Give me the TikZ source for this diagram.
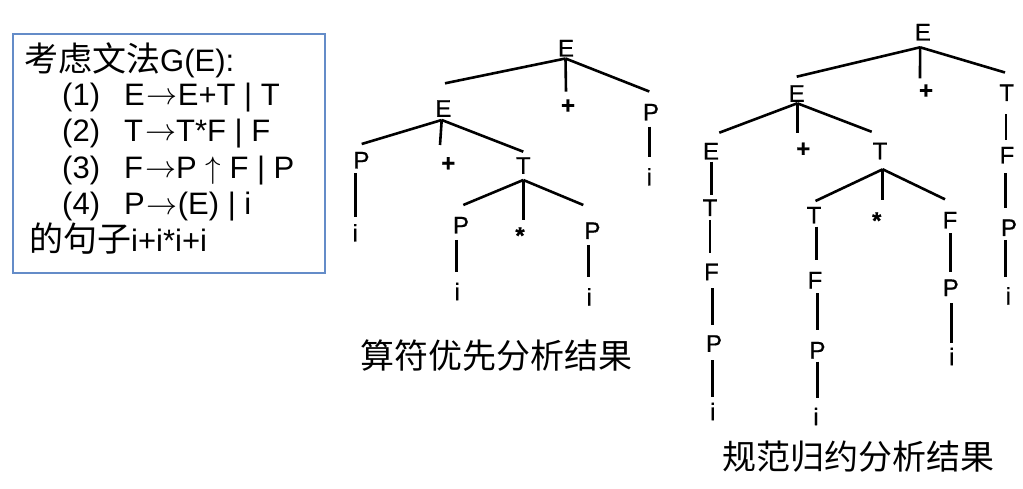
\RequirePackage{fix-cm}
\documentclass[tikz,border=0pt]{standalone}
\usepackage{fontspec}
\setmainfont{Liberation Sans}
\newfontfamily\boxf{Liberation Sans}
\newfontfamily\treef[FakeBold=0.6]{Liberation Sans}
\newfontfamily\cjkf{Noto Sans CJK SC}
\newcommand\cjkt[1]{{\cjkf\fontsize{34}{34}\selectfont #1}}
\newcommand\ra{\hspace{2pt}\raisebox{1pt}{$\rightarrow$}}
\newcommand\tedge[4]{\draw[tline] ([shift={(#2)}]#1.center) -- ([shift={(#4)}]#3.center);}
\definecolor{boxblue}{RGB}{100,140,200}
\tikzset{
  tn/.style={font=\treef\fontsize{24}{24}\selectfont, inner sep=0pt, text height=17pt, text depth=0pt, anchor=center},
  tb/.style={tn, font=\treef\fontsize{24}{24}\selectfont\bfseries},
  tline/.style={line width=2.6pt},
  gram/.style={anchor=base west, inner sep=0pt, font=\boxf\fontsize{31}{31}\selectfont},
  captxt/.style={anchor=west, inner sep=0pt, font=\cjkf\fontsize{34}{34}\selectfont},
}
\begin{document}
\begin{tikzpicture}[x=1pt,y=-1pt]
\useasboundingbox (0,0) rectangle (1023,489);
% grammar box
\draw[boxblue, line width=2pt] (12.7,34) rectangle (325,273);
\node[gram] (g0) at (24,71.5) {\cjkt{考虑文法}G(E):};
\node[gram] (n1) at (62,105.5) {(1)};
\node[gram] (r1) at (124,105.5) {E\ra E+T | T};
\node[gram] (n2) at (62,142) {(2)};
\node[gram] (r2) at (124,142) {T\ra T*F | F};
\node[gram] (n3) at (62,178.5) {(3)};
\node[gram] (r3) at (124,178.5) {F\ra P $\uparrow$ F | P};
\node[gram] (n4) at (62,215) {(4)};
\node[gram] (r4) at (124,215) {P\ra (E) | i};
\node[gram] (g5) at (29,251.5) {\cjkt{的句子}i+i*i+i};
% left tree
\node[tn] (LE0) at (566,48) {E};
\node[tn] (LE1) at (443.3,108.3) {E};
\node[tb] (Lp1) at (568,105) {+};
\node[tn] (LP1) at (651,112) {P};
\node[tn] (Li1) at (649.3,177) {i};
\node[tn] (LP2) at (361.5,160) {P};
\node[tb] (Lp2) at (448.3,162.7) {+};
\node[tn] (LT1) at (523.3,165.3) {T};
\node[tn] (Li2) at (355.3,233) {i};
\node[tn] (LP3) at (461,225) {P};
\node[tb] (Lst) at (520,235.3) {*};
\node[tn] (LP4) at (592.5,230.5) {P};
\node[tn] (Li3) at (457.3,291.7) {i};
\node[tn] (Li4) at (589.3,297) {i};
\tedge{LE0}{-0.5,10.5}{LE1}{1.7,-25}
\tedge{LE0}{-0.5,10.5}{Lp1}{-2,-13.3}
\tedge{LE0}{-0.5,10.5}{LP1}{-1.7,-20.5}
\tedge{LP1}{-1.7,14.7}{Li1}{0,-20.3}
\tedge{LE1}{-1.6,11.7}{LP2}{0.2,-16}
\tedge{LE1}{-1.6,11.7}{Lp2}{-8.3,-17.7}
\tedge{LE1}{-1.6,11.7}{LT1}{0,-13.6}
\tedge{LP2}{-5.8,13.3}{Li2}{0.4,-16.3}
\tedge{LT1}{0,14.7}{LP3}{2.3,-20}
\tedge{LT1}{0,14.7}{Lst}{3.3,-15.3}
\tedge{LT1}{0,14.7}{LP4}{-9.2,-25.5}
\tedge{LP3}{-4.3,15}{Li3}{-0.6,-19.7}
\tedge{LP4}{-4.2,14.5}{Li4}{-1,-20.3}
% right tree
\node[tn] (RE0) at (922.8,32) {E};
\node[tn] (RE1) at (796.7,93.3) {E};
\node[tb] (Rp1) at (926,90) {+};
\node[tn] (RT0) at (1006.7,92.5) {T};
\node[tn] (RF0) at (1007,155) {F};
\node[tn] (RP0) at (1009,227.5) {P};
\node[tn] (Ri0) at (1008.3,296) {i};
\node[tn] (RE2) at (711,151) {E};
\node[tb] (Rp2) at (803.3,148.3) {+};
\node[tn] (RT1) at (880,150.8) {T};
\node[tn] (RT2) at (710,207.5) {T};
\node[tn] (RF1) at (711.5,271.7) {F};
\node[tn] (RP1) at (714,343.3) {P};
\node[tn] (Ri1) at (712.7,411.7) {i};
\node[tn] (RT3) at (814,215) {T};
\node[tb] (Rst) at (876.7,220.3) {*};
\node[tn] (RF2) at (950,220) {F};
\node[tn] (RF3) at (815,280) {F};
\node[tn] (RP3) at (817.5,350) {P};
\node[tn] (Ri3) at (816,416.7) {i};
\node[tn] (RP2) at (950.8,287.5) {P};
\node[tn] (Ri2) at (951.7,356.7) {i};
\tedge{RE0}{-2.7,15.3}{RE1}{0,-16.6}
\tedge{RE0}{-2.7,15.3}{Rp1}{-6,-11.7}
\tedge{RE0}{-2.7,15.3}{RT0}{-1.7,-20}
\tedge{RT0}{-0.7,21.6}{RF0}{-1,-15}
\tedge{RF0}{-1.3,18.3}{RP0}{-3.3,-19.2}
\tedge{RP0}{-3.3,12.5}{Ri0}{-2.6,-19.3}
\tedge{RE1}{0.6,10}{RE2}{8.3,-18.3}
\tedge{RE1}{0.6,10}{Rp2}{-6,-15}
\tedge{RE1}{0.6,10}{RT1}{-8.3,-19}
\tedge{RE2}{0.7,10.7}{RT2}{1.7,-12.5}
\tedge{RT2}{0,12.5}{RF1}{-1.5,-18.7}
\tedge{RF1}{1.2,16.3}{RP1}{-1.3,-18.3}
\tedge{RP1}{-1.3,16.7}{Ri1}{0,-15}
\tedge{RT1}{2.7,18.5}{RT3}{1.5,-14}
\tedge{RT1}{2.7,18.5}{Rst}{6,-20.7}
\tedge{RT1}{2.7,18.5}{RF2}{-5,-20.7}
\tedge{RT3}{2.7,11.7}{RF3}{1.7,-20}
\tedge{RF3}{2.3,13.3}{RP3}{-0.2,-20}
\tedge{RP3}{-0.2,11.7}{Ri3}{1.3,-18.4}
\tedge{RF2}{0.7,13.3}{RP2}{-0.1,-15.8}
\tedge{RP2}{0.9,15.8}{Ri2}{0,-13.4}
% captions
\node[captxt] (c1) at (360,356) {算符优先分析结果};
\node[captxt] (c2) at (722,457) {规范归约分析结果};
\end{tikzpicture}
\end{document}
